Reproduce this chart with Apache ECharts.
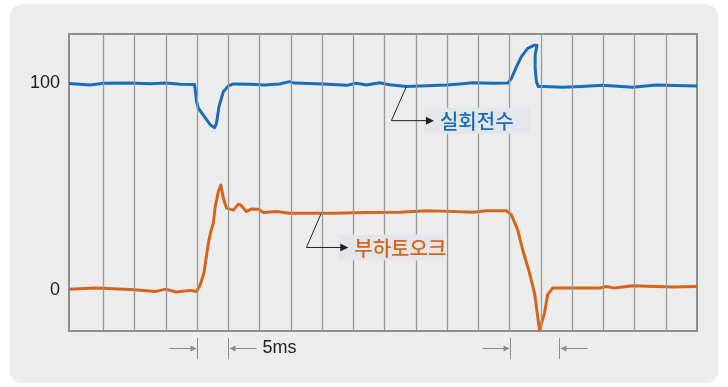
<!DOCTYPE html>
<html>
<head>
<meta charset="utf-8">
<script src="https://cdn.jsdelivr.net/npm/echarts@6/dist/echarts.min.js"></script>
<style>
html, body { margin: 0; padding: 0; background: #fff; }
#panel { position: absolute; left: 10px; top: 4px; width: 708px; height: 379px; background: #ececec; border-radius: 12px; }
#container { position: absolute; left: 0; top: 0; width: 728px; height: 387px; }
</style>
</head>
<body>
<div id="panel"></div>
<div id="container"></div>
<script>
var dom = document.getElementById("container");
var myChart = echarts.init(dom);
var option = null;

// time axis in ms, one grid division = 5ms
var gridTimes = [5, 10, 15, 20, 25, 30, 35, 40, 45, 50, 55, 60, 65, 70, 75, 80, 85, 90, 95];
var yTicks = [0, 100];

// 실회전수 (actual speed, %)
var speedTime = [-0.5, 2.9, 5, 9.3, 12.5, 15, 17.3, 19.6, 19.9, 20.2, 21.0, 22.1, 22.8, 23.1, 23.5, 24.2, 25.0, 25.8,
    28.5, 30.8, 33.2, 34.8, 35.6, 40.2, 43.9, 45.5, 47.1, 49.2, 50.8, 53.5, 56.7, 59.9, 62.0, 64.1, 67.3, 69.7,
    70.3, 71.1, 71.9, 72.9, 74.0, 74.4, 74.1, 74.1, 74.3, 74.6, 75.6, 78.5, 81.5, 84.9, 89.7, 93.5, 96.5, 100];
var speedValue = [100, 99.3, 100.1, 100.2, 99.9, 100.2, 99.6, 99.5, 91.5, 88, 84.7, 80, 78.6, 80.7, 88.8, 96, 98.8, 99.8,
    99.6, 99.3, 99.8, 100.9, 100.2, 99.8, 99.1, 100.1, 99.3, 100.4, 99.4, 98.5, 98.9, 99.3, 99.8, 100.4, 100.1, 100.2,
    102.5, 108.1, 113, 117, 118.6, 118.6, 113.8, 107.4, 100.9, 98.6, 98.5, 98.2, 98.6, 99.1, 98.2, 99.3, 99.0, 98.8];

// 부하토오크 (load torque, %)
var torqueTime = [-0.5, 3.8, 9.3, 10.9, 13.4, 15, 16.6, 18.9, 19.9, 20.5, 21.1, 21.4, 21.8, 22.2, 22.6, 22.9, 23.4, 23.8,
    24.2, 24.7, 25.8, 26.6, 27.0, 27.9, 28.7, 29.8, 30.6, 32.7, 34.8, 38.0, 41.8, 47.1, 52.4, 56.7, 60.4, 64.1, 66.3,
    69.5, 70.3, 71.3, 72.1, 73.2, 74.0, 74.8, 75.6, 76.1, 76.9, 80.1, 84.4, 85.5, 86.8, 89.7, 96.1, 100];
var torqueValue = [0.3, 0.8, 0.1, -0.3, -0.8, 0.3, -1.1, -0.3, -0.8, 2.4, 8.1, 14.5, 22.6, 28.3, 32.3, 40.3, 47.6, 50.8,
    44.4, 39.6, 38.6, 41.5, 41, 37.9, 39.2, 39, 37.4, 37.9, 37.1, 37.1, 37.1, 37.4, 37.6, 38.3, 38.0, 37.6, 38.3,
    38.3, 36.3, 29, 19.4, 8.1, -1.6, -19.6, -11.3, -2.4, 0.8, 0.8, 0.8, 1.6, 0.8, 1.9, 1.3, 1.6];

// leader lines: start on curve, elbow, arrow tip (data coords)
var speedNotePath = [[53.5, 98.6], [51.1, 82], [57.9, 82]];
var torqueNotePath = [[39.8, 36.6], [37.5, 20.5], [44.2, 20.5]];
var spanTimes = [20, 25, 70, 77.9];

function pairs(xs, ys) {
    return xs.map(function (x, i) { return [x, ys[i]]; });
}

option = {
    animation: false,
    grid: {
        left: 69, right: 31, top: 34, bottom: 56,
        show: true,
        borderColor: '#8e8e8e',
        borderWidth: 2,
        backgroundColor: 'transparent'
    },
    xAxis: {
        type: 'value', min: -0.5, max: 100,
        axisLine: {show: false}, axisTick: {show: false},
        axisLabel: {show: false}, splitLine: {show: false}
    },
    yAxis: {
        type: 'value', min: -20, max: 124, interval: 4,
        axisLine: {show: false}, axisTick: {show: false}, splitLine: {show: false},
        axisLabel: {
            margin: 9, fontSize: 18, color: '#222',
            fontFamily: 'Liberation Sans',
            formatter: function (v) { return yTicks.indexOf(v) >= 0 ? String(v) : ''; }
        }
    },
    series: [{
        type: 'line', data: [], silent: true,
        markLine: {
            silent: true, symbol: 'none', animation: false,
            label: {show: false},
            lineStyle: {color: '#999', width: 1.3, type: 'solid'},
            data: gridTimes.map(function (t) { return {xAxis: t}; })
        }
    }, {
        name: '실회전수', type: 'line', showSymbol: false, z: 4,
        lineStyle: {color: '#1c6db5', width: 3, join: 'round'},
        data: pairs(speedTime, speedValue)
    }, {
        name: '부하토오크', type: 'line', showSymbol: false, z: 3,
        lineStyle: {color: '#d3661d', width: 3, join: 'round'},
        data: pairs(torqueTime, torqueValue)
    }]
};

if (option && typeof option === "object") {
    myChart.setOption(option, false);
}

function px(p) {
    return myChart.convertToPixel({gridIndex: 0}, p);
}

function note(path, text, color, boxW) {
    var p = path.map(px);
    var tip = p[2];
    return [{
        type: 'rect', z: 10,
        shape: {x: tip[0] - 10, y: tip[1] - 13, width: boxW, height: 26},
        style: {fill: '#e3e5e8'}
    }, {
        type: 'polyline', z: 11,
        shape: {points: [p[0], p[1], [tip[0] - 6, tip[1]]]},
        style: {stroke: '#222', lineWidth: 1, fill: null}
    }, {
        type: 'polygon', z: 11,
        shape: {points: [[tip[0], tip[1]], [tip[0] - 8, tip[1] - 4], [tip[0] - 8, tip[1] + 4]]},
        style: {fill: '#222'}
    }, {
        type: 'text', z: 12,
        x: tip[0] + 6, y: tip[1] + 1,
        style: {
            text: text, fill: color, fontSize: 20, fontWeight: 500,
            fontFamily: 'Noto Sans CJK KR',
            align: 'left', verticalAlign: 'middle'
        }
    }];
}

function spans() {
    var base = px([0, -20])[1];
    var out = [];
    spanTimes.forEach(function (t, i) {
        var x = Math.round(px([t, 0])[0]) + 0.5;
        var dir = (i % 2 === 0) ? -1 : 1;
        var ay = base + 17.5;
        out.push({
            type: 'line', z: 10,
            shape: {x1: x, y1: base + 7, x2: x, y2: base + 28},
            style: {stroke: '#8a8a8a', lineWidth: 1}
        });
        out.push({
            type: 'line', z: 10,
            shape: {x1: x + dir * 28, y1: ay, x2: x + dir * 5, y2: ay},
            style: {stroke: '#8a8a8a', lineWidth: 1}
        });
        out.push({
            type: 'polygon', z: 10,
            shape: {points: [[x + dir * 1, ay], [x + dir * 7, ay - 3], [x + dir * 7, ay + 3]]},
            style: {fill: '#8a8a8a'}
        });
        if (i === 1) {
            out.push({
                type: 'text', z: 10,
                x: x + 34, y: ay,
                style: {
                    text: '5ms', fill: '#222', fontSize: 18,
                    fontFamily: 'Liberation Sans',
                    align: 'left', verticalAlign: 'middle'
                }
            });
        }
    });
    return out;
}

myChart.setOption({
    graphic: [].concat(
        note(speedNotePath, '실회전수', '#1c6db5', 106),
        note(torqueNotePath, '부하토오크', '#d3661d', 106),
        spans()
    )
});
</script>
</body>
</html>
